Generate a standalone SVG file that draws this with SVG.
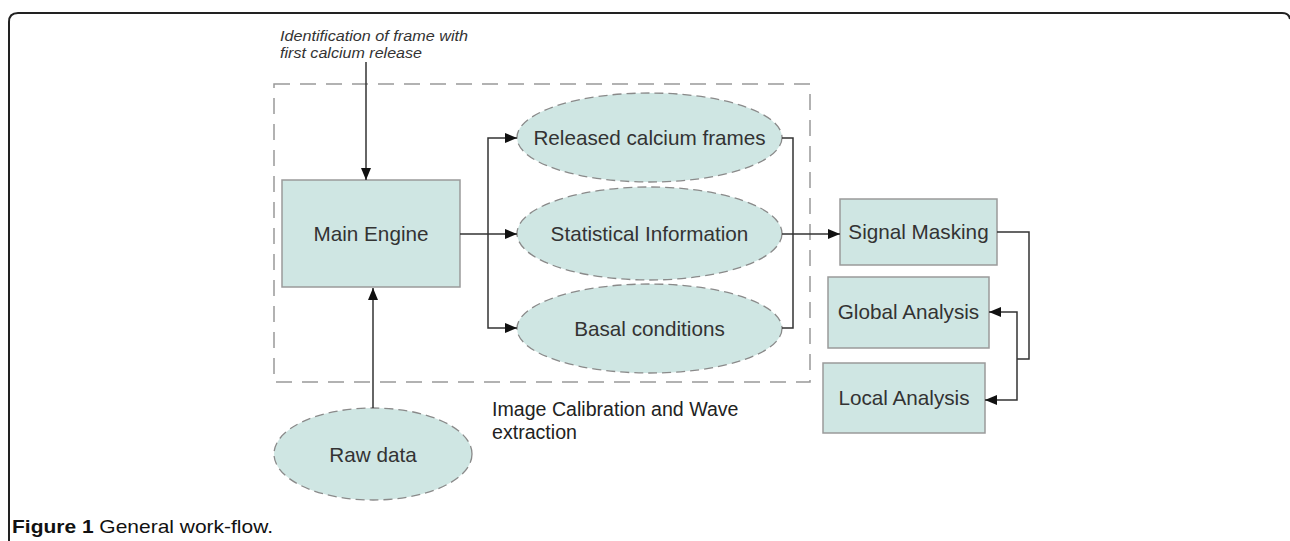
<svg xmlns="http://www.w3.org/2000/svg" width="1290" height="541" viewBox="0 0 1290 541">
<defs>
<marker id="arr" viewBox="0 0 12 10" refX="12" refY="5" markerWidth="12" markerHeight="10" markerUnits="userSpaceOnUse" orient="auto">
<path d="M0,0 L12,5 L0,10 Z" fill="#111"/>
</marker>
<style>
.box{fill:#cfe6e3;stroke:#9a9a9a;stroke-width:1.5}
.ell{fill:#cfe6e3;stroke:#8a8a8a;stroke-width:1.3;stroke-dasharray:9 5}
.lbl{font-family:"Liberation Sans",Arial,sans-serif;font-size:20.7px;fill:#333;text-anchor:middle}
.conn{fill:none;stroke:#333;stroke-width:1.5}
.note{font-family:"Liberation Sans",Arial,sans-serif;font-size:19.6px;fill:#222}
</style>
</defs>
<rect width="1290" height="541" fill="#fff"/>
<path d="M9,541 V22 Q9,13 18,13 H1282 Q1289,13 1290,19" fill="none" stroke="#222" stroke-width="2"/>
<rect x="274" y="84" width="536" height="298" fill="none" stroke="#999" stroke-width="1.5" stroke-dasharray="16 10"/>
<text x="280" y="41" font-family="Liberation Sans, Arial, sans-serif" font-size="15" font-style="italic" fill="#333" textLength="188" lengthAdjust="spacingAndGlyphs">Identification of frame with</text>
<text x="280" y="58" font-family="Liberation Sans, Arial, sans-serif" font-size="15" font-style="italic" fill="#333" textLength="142" lengthAdjust="spacingAndGlyphs">first calcium release</text>
<text class="note" x="492" y="416">Image Calibration and Wave</text>
<text class="note" x="492" y="439">extraction</text>
<g id="main-engine"><rect class="box" x="282" y="180" width="178" height="107"/><text class="lbl" x="371" y="241">Main Engine</text></g>
<g id="released"><ellipse class="ell" cx="649.5" cy="137.5" rx="132.5" ry="44.5"/><text class="lbl" x="649.5" y="145">Released calcium frames</text></g>
<g id="statistical"><ellipse class="ell" cx="649.5" cy="233.5" rx="132.5" ry="46.5"/><text class="lbl" x="649.5" y="241">Statistical Information</text></g>
<g id="basal"><ellipse class="ell" cx="649.5" cy="328.5" rx="132.5" ry="44.5"/><text class="lbl" x="649.5" y="336">Basal conditions</text></g>
<g id="raw-data"><ellipse class="ell" cx="373" cy="454" rx="99" ry="46"/><text class="lbl" x="373" y="462">Raw data</text></g>
<g id="signal-masking"><rect class="box" x="840" y="199" width="157" height="66"/><text class="lbl" x="918.5" y="239">Signal Masking</text></g>
<g id="global-analysis"><rect class="box" x="828" y="277" width="161" height="71"/><text class="lbl" x="908.5" y="319">Global Analysis</text></g>
<g id="local-analysis"><rect class="box" x="823" y="363" width="162" height="70"/><text class="lbl" x="904" y="405">Local Analysis</text></g>
<g id="connectors">
<path class="conn" d="M366,62 V180" marker-end="url(#arr)"/>
<path class="conn" d="M373,408 V288" marker-end="url(#arr)"/>
<path class="conn" d="M460,234 H517" marker-end="url(#arr)"/>
<path class="conn" d="M488,234 V138 H517" marker-end="url(#arr)"/>
<path class="conn" d="M488,234 V328 H517" marker-end="url(#arr)"/>
<path class="conn" d="M782,138 H793 V328 H782"/>
<path class="conn" d="M782,234 H840" marker-end="url(#arr)"/>
<path class="conn" d="M997,232 H1029 V359 H1017"/>
<path class="conn" d="M1017,359 V312 H989" marker-end="url(#arr)"/>
<path class="conn" d="M1017,359 V400 H985" marker-end="url(#arr)"/>
</g>
<text x="12" y="533" font-family="Liberation Sans, Arial, sans-serif" font-size="19" fill="#111" textLength="261" lengthAdjust="spacingAndGlyphs"><tspan font-weight="bold">Figure 1</tspan> General work-flow.</text>
</svg>
